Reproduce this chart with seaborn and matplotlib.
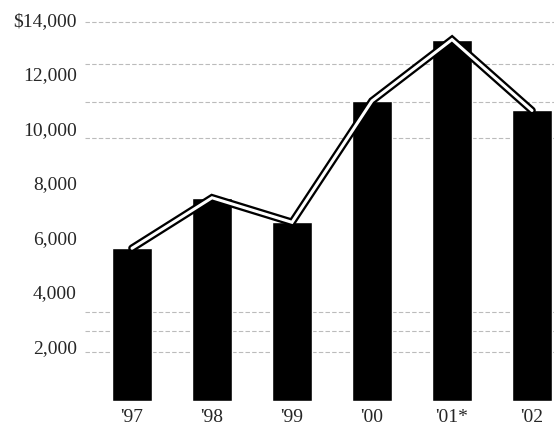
import matplotlib
matplotlib.use("Agg")
import matplotlib.pyplot as plt
import seaborn as sns
import numpy as np
import pandas as pd

years = ["'97", "'98", "'99", "'00", "'01*", "'02"]
values = [5600, 7450, 6550, 11000, 13250, 10650]
ytick_vals = [2000, 4000, 6000, 8000, 10000, 12000, 14000]
ytick_labels = ["2,000", "4,000", "6,000", "8,000", "10,000", "12,000", "$14,000"]

sns.set_theme(style="white")
plt.rcParams['font.family'] = ['Liberation Serif', 'DejaVu Serif']

df = pd.DataFrame({"year": years, "value": values})

fig = plt.figure(figsize=(5.54, 4.30), dpi=100)
ax = fig.add_axes([85/554, 29/430, 469/554, 401/430])

# faint scan-like horizontal rules
for yv in [1800, 2550, 3250, 9650, 10950, 12350, 13900]:
    ax.axhline(yv, color="#bbbbbb", lw=0.8, ls=(0, (4, 2)), zorder=0)

sns.barplot(data=df, x="year", y="value", color="black", width=0.51,
            saturation=1, ax=ax, zorder=2)

pos = np.arange(len(values))
sns.lineplot(x=pos, y=values, color="black", linewidth=5.5, ax=ax, zorder=3,
             solid_joinstyle="miter")
sns.lineplot(x=pos, y=values, color="white", linewidth=2.2, ax=ax, zorder=4,
             solid_joinstyle="miter")

ax.set_xlim(-0.5875, 5.275)
ax.set_ylim(0, 14700)
ax.set_xticks(pos)
ax.set_xticklabels(years, fontsize=14)
ax.set_yticks(ytick_vals)
ax.set_yticklabels(ytick_labels, fontsize=14)
ax.tick_params(axis="x", length=0, pad=6)
ax.tick_params(axis="y", length=0, pad=6)
ax.set_xlabel("")
ax.set_ylabel("")
for s in ax.spines.values():
    s.set_visible(False)

fig.savefig("out.png", dpi=100)
